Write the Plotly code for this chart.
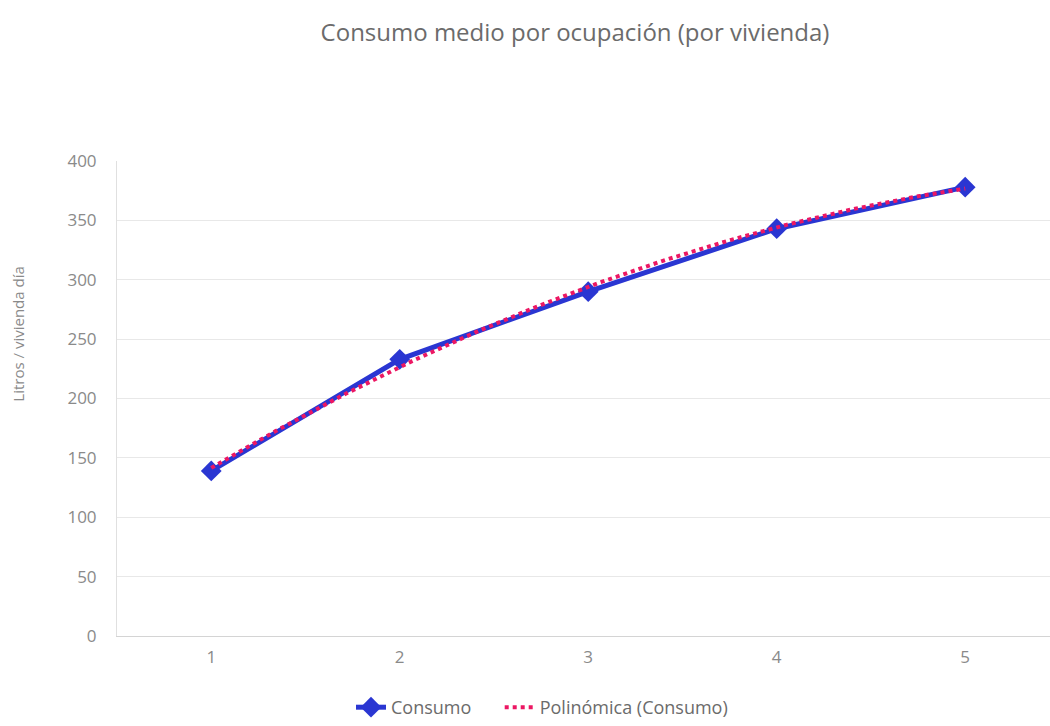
import numpy as np
import plotly.graph_objects as go

# Average daily consumption per dwelling by number of occupants
ocupantes = [1, 2, 3, 4, 5]
consumo = [139, 233, 290, 343, 378]
y_ticks = [0, 50, 100, 150, 200, 250, 300, 350, 400]

# Second-order polynomial trendline fitted to the consumption series
coef = np.polyfit(ocupantes, consumo, 2)
x_fit = np.linspace(ocupantes[0], ocupantes[-1], 200)
y_fit = np.polyval(coef, x_fit)

FONT = "'Open Sans', Lato, sans-serif"
GRAY = "#8a8a8a"
TEXT = "#6b6b6b"

fig = go.Figure()

fig.add_trace(go.Scatter(
    x=ocupantes, y=consumo, name="Consumo\u00a0\u00a0\u00a0\u00a0\u00a0", mode="lines+markers",
    line=dict(color="#2a36d2", width=5),
    marker=dict(symbol="diamond", size=16, color="#2a36d2"),
))

fig.add_trace(go.Scatter(
    x=x_fit, y=y_fit, name="Polinómica (Consumo)", mode="lines",
    line=dict(color="#ec1763", width=4, dash="dot"),
))

fig.update_layout(
    width=1050, height=726,
    paper_bgcolor="white", plot_bgcolor="white",
    margin=dict(l=117, r=0, t=161, b=89),
    font=dict(family=FONT, color=GRAY, size=16),
    title=dict(
        text="Consumo medio por ocupación (por vivienda)",
        x=575 / 1050, xanchor="center", y=1 - 33 / 726, yanchor="middle",
        font=dict(family=FONT, size=24, color=TEXT),
    ),
    legend=dict(
        orientation="h", x=(542 - 117) / 933, xanchor="center",
        y=-72 / 476, yanchor="middle", xref="paper",
        font=dict(family=FONT, size=18, color=TEXT),
    ),
    showlegend=True,
)

fig.update_xaxes(
    range=[0.5, 5.45], tickvals=ocupantes, ticktext=[str(v) for v in ocupantes],
    showgrid=False, zeroline=False,
    showline=True, linecolor="#d4d4d4", linewidth=1,
    ticks="", ticklabelstandoff=6, tickfont=dict(size=17, color=GRAY),
)

fig.update_yaxes(
    range=[0, 400], tickvals=y_ticks,
    showgrid=True, gridcolor="#e8e8e8", gridwidth=1,
    zeroline=False, showline=True, linecolor="#e0e0e0", linewidth=1,
    ticks="", ticklabelstandoff=16,
    tickfont=dict(size=17, color=GRAY),
)

# Rotated axis title placed to the left of the tick labels
fig.add_annotation(
    text="Litros / vivienda día", textangle=-90,
    xref="paper", yref="paper",
    x=-(117 - 18) / 933, y=(637 - 335) / 476,
    xanchor="center", yanchor="middle", showarrow=False,
    font=dict(family=FONT, size=15, color=GRAY),
)

fig.write_html("out.html")
